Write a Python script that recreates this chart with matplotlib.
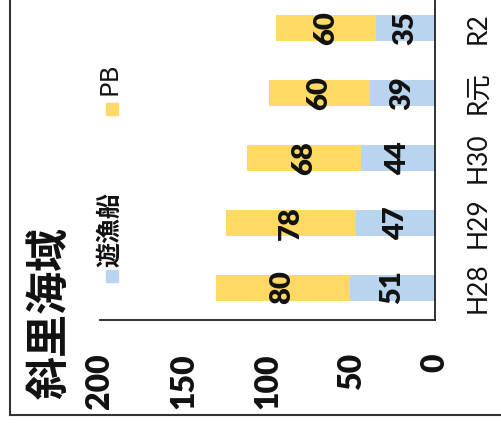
import matplotlib
matplotlib.use("Agg")
import matplotlib.pyplot as plt
from matplotlib.patches import Rectangle
from matplotlib.lines import Line2D

# データ（回転したグラフ：横棒、右が0）
categories = ["H28", "H29", "H30", "R元", "R2"]
yugyosen = [51, 47, 44, 39, 35]
pb = [80, 78, 68, 60, 60]
yticks = [0, 50, 100, 150, 200]

plt.rcParams['font.family'] = ['Lato', 'Noto Sans CJK JP', 'DejaVu Sans']

blue = "#B9D4EE"
yellow = "#FFD966"
ink = "#111111"
cjk = ['Noto Sans CJK JP', 'DejaVu Sans']

fig = plt.figure(figsize=(5.02, 4.28), dpi=100)
ax = fig.add_axes([100 / 502, 1 - 320 / 428, 335 / 502, 324.5 / 428])

pos = list(range(len(categories)))
ax.barh(pos, yugyosen, height=0.4, color=blue)
ax.barh(pos, pb, left=yugyosen, height=0.4, color=yellow)

# 値ラベル
for i in pos:
    ax.text(yugyosen[i] / 2, i, str(yugyosen[i]), rotation=90,
            ha="center", va="center", fontsize=21, fontweight="heavy", color=ink)
    ax.text(yugyosen[i] + pb[i] / 2, i, str(pb[i]), rotation=90,
            ha="center", va="center", fontsize=21, fontweight="heavy", color=ink)

ax.set_xlim(200, 0)
ax.set_ylim(-0.5, 4.5)
ax.set_xticks(yticks)
ax.set_xticklabels([str(t) for t in yticks], rotation=90, va="top",
                   fontsize=23, fontweight="heavy", color=ink)
ax.tick_params(axis="x", length=0, pad=24)
ax.yaxis.tick_right()
ax.set_yticks(pos)
ax.set_yticklabels(categories, rotation=90, va="center", ha="left",
                   fontsize=19, color=ink)
ax.tick_params(axis="y", length=0, pad=22)

for s in ["top", "left"]:
    ax.spines[s].set_visible(False)
for s in ["bottom", "right"]:
    ax.spines[s].set_color("#222222")
    ax.spines[s].set_linewidth(1.3)

# タイトル
fig.text(50 / 502, 1 - 313 / 428, "斜里海域", rotation=90, ha="center", va="center",
         fontsize=31, fontweight="bold", color=ink, family=cjk)

# 凡例
fig.patches.append(Rectangle((106 / 502, 1 - 282 / 428), 12 / 502, 12 / 428,
                             transform=fig.transFigure, color=blue))
fig.text(110 / 502, 1 - 267 / 428, "遊漁船", rotation=90, ha="center", va="bottom",
         fontsize=18, fontweight="bold", color=ink, family=cjk)
fig.patches.append(Rectangle((106 / 502, 1 - 115 / 428), 12 / 502, 12 / 428,
                             transform=fig.transFigure, color=yellow))
fig.text(110 / 502, 1 - 95 / 428, "PB", rotation=90, ha="center", va="bottom",
         fontsize=18, color=ink, family=cjk)

# 外枠
fig.add_artist(Line2D([10 / 502, 10 / 502], [1, 1 - 415 / 428],
                      transform=fig.transFigure, color="#333333", lw=1.5))
fig.add_artist(Line2D([10 / 502, 1], [1 - 415 / 428, 1 - 415 / 428],
                      transform=fig.transFigure, color="#333333", lw=1.5))

fig.savefig("out.png", dpi=100)
